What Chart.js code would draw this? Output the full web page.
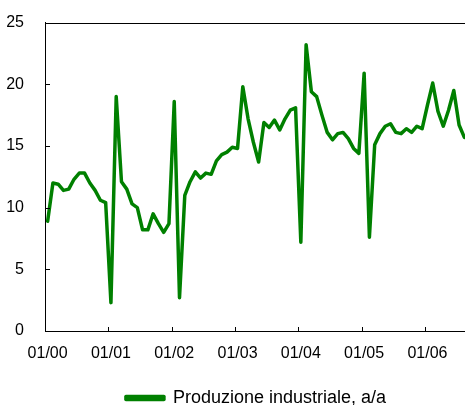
<!DOCTYPE html>
<html>
<head>
<meta charset="utf-8">
<script src="https://cdn.jsdelivr.net/npm/chart.js@4.4.1/dist/chart.umd.min.js"></script>
<style>
  html, body { margin: 0; padding: 0; background: #fff; overflow: hidden; }
  #wrap { position: relative; width: 470px; height: 405px; }
  #wrap canvas { position: absolute; left: 0; top: 0; display: block; }
  .rule { position: absolute; background: #000; pointer-events: none; }
</style>
</head>
<body>
<div id="wrap">
  <canvas id="chart" width="470" height="405"></canvas>
</div>
<script>
// Monthly categories, January 2000 to August 2006
const categories = [
  '01/00','02/00','03/00','04/00','05/00','06/00','07/00','08/00','09/00','10/00','11/00','12/00',
  '01/01','02/01','03/01','04/01','05/01','06/01','07/01','08/01','09/01','10/01','11/01','12/01',
  '01/02','02/02','03/02','04/02','05/02','06/02','07/02','08/02','09/02','10/02','11/02','12/02',
  '01/03','02/03','03/03','04/03','05/03','06/03','07/03','08/03','09/03','10/03','11/03','12/03',
  '01/04','02/04','03/04','04/04','05/04','06/04','07/04','08/04','09/04','10/04','11/04','12/04',
  '01/05','02/05','03/05','04/05','05/05','06/05','07/05','08/05','09/05','10/05','11/05','12/05',
  '01/06','02/06','03/06','04/06','05/06','06/06','07/06','08/06'
];

// Industrial production, year-on-year change (%)
const productionYoY = [
  8.9, 12.0, 11.9, 11.4, 11.5, 12.3, 12.8, 12.8, 12.0, 11.4, 10.6, 10.4,
  2.3, 19.0, 12.1, 11.5, 10.3, 10.0, 8.2, 8.2, 9.5, 8.7, 8.0, 8.7,
  18.6, 2.7, 11.0, 12.1, 12.9, 12.4, 12.8, 12.7, 13.8, 14.3, 14.5, 14.9,
  14.8, 19.8, 17.2, 15.3, 13.7, 16.9, 16.5, 17.1, 16.3, 17.2, 17.9, 18.1,
  7.2, 23.2, 19.4, 19.0, 17.5, 16.1, 15.5, 16.0, 16.1, 15.6, 14.8, 14.4,
  20.9, 7.6, 15.1, 16.0, 16.6, 16.8, 16.1, 16.0, 16.4, 16.1, 16.6, 16.4,
  18.3, 20.1, 17.8, 16.6, 17.9, 19.5, 16.7, 15.7
];

// Value axis ticks
const yTicks = [0, 5, 10, 15, 20, 25];

const seriesName = 'Produzione industriale, a/a';
const lineColor = '#008000';
const fontFamily = '"Liberation Sans", Arial, sans-serif';
const isYearStart = i => categories[i] !== undefined && categories[i].startsWith('01/');

const chart = new Chart(document.getElementById('chart'), {
  type: 'line',
  data: {
    labels: categories,
    datasets: [{
      label: seriesName,
      data: productionYoY,
      borderColor: lineColor,
      backgroundColor: lineColor,
      borderWidth: 3.5,
      pointRadius: 0,
      tension: 0,
      borderJoinStyle: 'round',
      borderCapStyle: 'round'
    }]
  },
  options: {
    responsive: false,
    animation: false,
    layout: { padding: { top: 20, right: 3, left: 0, bottom: -12 } },
    plugins: {
      legend: {
        position: 'bottom',
        fullSize: false,
        labels: {
          boxWidth: 38,
          boxHeight: 3,
          padding: 1,
          color: '#000',
          font: { size: 18, family: fontFamily }
        }
      },
      tooltip: { enabled: false }
    },
    scales: {
      x: {
        offset: true,
        grid: { display: false },
        border: { display: true, color: '#000', width: 1 },
        ticks: {
          autoSkip: false,
          maxRotation: 0,
          color: '#000',
          padding: 5,
          font: { size: 16, family: fontFamily },
          callback: (v, i) => (isYearStart(i) ? categories[i] : '')
        },
        afterFit(scale) { scale.height = 57; }
      },
      y: {
        min: 0,
        max: 25,
        grid: { display: false },
        border: { display: true, color: '#000', width: 1 },
        ticks: {
          stepSize: 5,
          color: '#000',
          padding: 13,
          font: { size: 16, family: fontFamily }
        },
        afterFit(scale) { scale.width = 45; }
      }
    }
  }
});

// Frame top edge and short inward tick marks, positioned from the chart's own scales
function addRule(left, top, width, height) {
  const d = document.createElement('div');
  d.className = 'rule';
  d.style.left = left + 'px';
  d.style.top = top + 'px';
  d.style.width = width + 'px';
  d.style.height = height + 'px';
  document.getElementById('wrap').appendChild(d);
}

function placeFrame() {
  const a = chart.chartArea;
  const x = chart.scales.x;
  const y = chart.scales.y;
  const left = Math.round(a.left);
  const top = Math.round(a.top);
  const bottom = Math.round(a.bottom);
  addRule(left, top, Math.round(a.right) - left, 1);
  yTicks.forEach(v => {
    addRule(left, Math.round(y.getPixelForValue(v)), 5, 1);
  });
  categories.forEach((c, i) => {
    if (i > 0 && isYearStart(i)) {
      const px = Math.round((x.getPixelForValue(i - 1) + x.getPixelForValue(i)) / 2);
      addRule(px, bottom - 4, 1, 4);
    }
  });
}
placeFrame();
</script>
</body>
</html>
